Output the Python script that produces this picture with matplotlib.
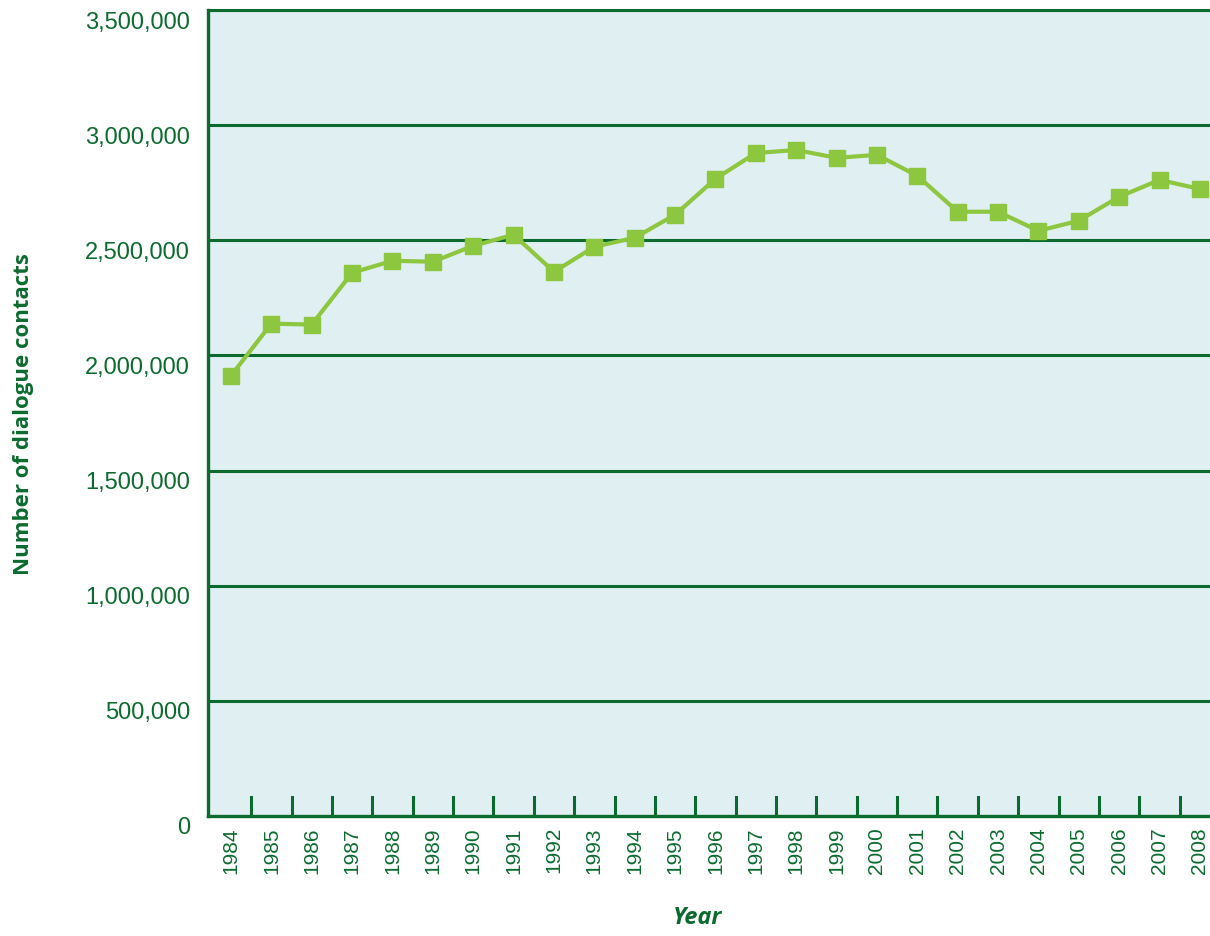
import matplotlib.pyplot as plt
import matplotlib.transforms as mtransforms
import numpy as np

years = [str(y) for y in range(1984, 2009)]
contacts = [1912000, 2138000, 2134000, 2359000, 2411000, 2407000, 2476000,
            2524000, 2363000, 2472000, 2511000, 2611000, 2767000, 2879000,
            2892000, 2858000, 2871000, 2780000, 2624000, 2624000, 2541000,
            2585000, 2689000, 2762000, 2723000]
yticks = np.arange(0, 3500001, 500000)

dark = '#0b6b2e'
light = '#8dc63f'
bg = '#dfeff2'

fig = plt.figure(figsize=(12.1, 9.36), dpi=100)
ax = fig.add_axes([208 / 1210, 1 - 816 / 936, 1 - 208 / 1210, (816 - 10) / 936])
ax.set_facecolor(bg)

x = np.arange(len(years))
ax.plot(x, contacts, color=light, linewidth=3, marker='s', markersize=11.5,
        markerfacecolor=light, markeredgecolor=light, zorder=3, clip_on=False)

ax.set_xlim(-0.57, 24.25)
ax.set_ylim(0, 3500000)

# horizontal grid
for v in yticks[1:]:
    ax.axhline(v, color=dark, linewidth=2.2, zorder=2)

# y tick labels, no tick marks, sitting a little below their gridline
ax.set_yticks(yticks)
ax.set_yticklabels([f'{v:,}' for v in yticks], fontsize=17, color=dark,
                   family='Liberation Sans')
ax.tick_params(axis='y', length=0, pad=13)
shift = mtransforms.ScaledTranslation(0, -0.1, fig.dpi_scale_trans)
for lbl in ax.get_yticklabels():
    lbl.set_transform(lbl.get_transform() + shift)

# x labels at categories, tick marks between
ax.set_xticks(x)
ax.set_xticklabels(years, rotation=90, fontsize=15, color=dark,
                   family='Liberation Sans')
ax.tick_params(axis='x', length=0, pad=8)
for b in x[:-1] + 0.5:
    ax.plot([b, b], [0, 83000], color=dark, linewidth=2.2, zorder=2)

for s in ['left', 'bottom']:
    ax.spines[s].set_color(dark)
    ax.spines[s].set_linewidth(2.4)
ax.spines['top'].set_visible(False)
ax.spines['right'].set_visible(False)
ax.axhline(3500000, color=dark, linewidth=2.2, zorder=2, clip_on=False)

fig.text(24 / 1210, 1 - 414 / 936, 'Number of dialogue contacts', rotation=90,
         ha='center', va='center', fontsize=16, fontweight='bold', color=dark,
         family='Open Sans')
fig.text(698 / 1210, 1 - 918 / 936, 'Year', ha='center', va='center',
         fontsize=17, fontweight='bold', fontstyle='italic', color=dark,
         family='Open Sans')

plt.savefig('out.png', dpi=100)
